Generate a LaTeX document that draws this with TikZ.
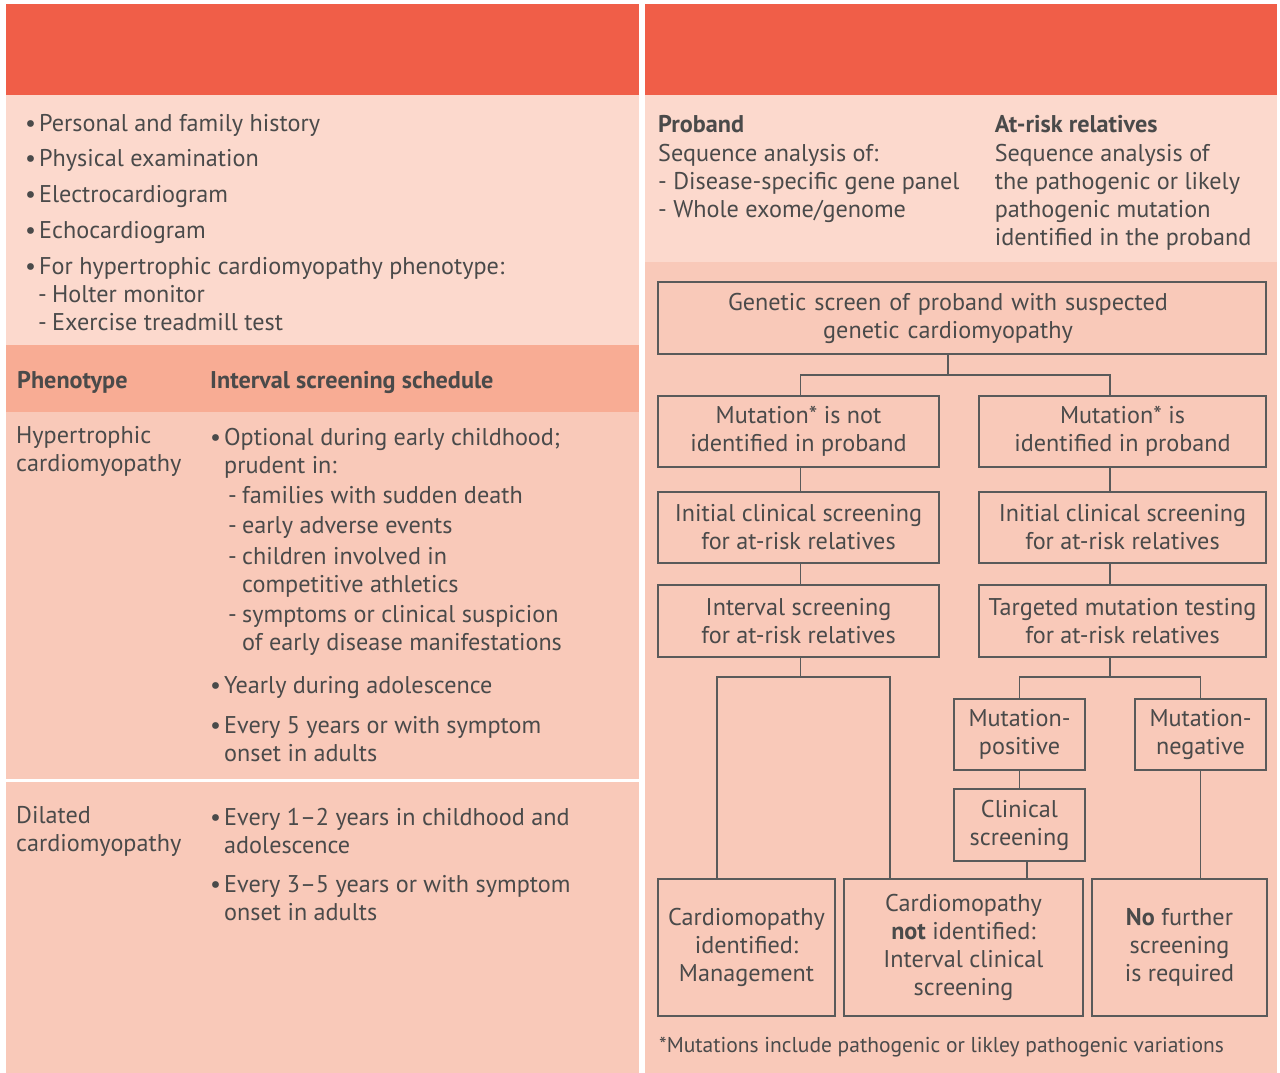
\documentclass[tikz,border=0pt]{standalone}
\usepackage{fontspec}
\setmainfont{PT Sans}
\definecolor{hdrred}{HTML}{F05E48}
\definecolor{lightpink}{HTML}{FCD9CD}
\definecolor{phenorow}{HTML}{F8AC94}
\definecolor{salmon}{HTML}{F9C9B9}
\definecolor{txtgray}{HTML}{4A4A4A}
\definecolor{linegray}{HTML}{5A5A5A}
\newcommand{\mfs}{\fontsize{24.2}{28}\selectfont}
\newcommand{\ffs}{\fontsize{21.5}{24}\selectfont}
\newcommand{\bul}{\makebox[14pt][l]{•}}
\newcommand{\dsh}{\makebox[14pt][l]{-}}
\tikzset{
  box/.style={draw=linegray, line width=1.8pt, inner sep=0pt, align=center, text=txtgray, font=\mfs},
  conn/.style={draw=linegray, line width=1.8pt},
  txt/.style={anchor=base west, inner sep=0pt, text=txtgray, font=\mfs, align=left},
}
\begin{document}
\begin{tikzpicture}[x=1pt,y=-1pt]
\useasboundingbox (0,0) rectangle (1280,1073);
\fill[white] (0,0) rectangle (1280,1073);
% left panel
\fill[hdrred] (6,4) rectangle (639,95);
\fill[lightpink] (6,95) rectangle (639,345);
\fill[phenorow] (6,345) rectangle (639,412);
\fill[salmon] (6,412) rectangle (639,1073);
\fill[white] (6,779) rectangle (639,781.5);
% right panel
\fill[hdrred] (645,4) rectangle (1277,95);
\fill[lightpink] (645,95) rectangle (1277,262);
\fill[salmon] (645,262) rectangle (1277,1073);

% left top list (base anchor = baseline of last line)
\node[txt] (l1) at (25,131) {\bul Personal and family history};
\node[txt] (l2) at (25,166) {\bul Physical examination};
\node[txt] (l3) at (25,202) {\bul Electrocardiogram};
\node[txt] (l4) at (25,238) {\bul Echocardiogram};
\node[txt] (l5) at (25,330) {\bul For hypertrophic cardiomyopathy phenotype:\\
  \hspace*{13pt}\dsh Holter monitor\\
  \hspace*{13pt}\dsh Exercise treadmill test};

% phenotype header
\node[txt] (ph) at (17,388) {\bfseries Phenotype};
\node[txt] (is) at (210,388) {\bfseries Interval screening schedule};

% hypertrophic
\node[txt] (hcm) at (16,471) {Hypertrophic\\cardiomyopathy};
\node[txt] (h1) at (210,473) {\bul Optional during early childhood;\\\hspace*{14pt}prudent in:};
\node[txt] (h1a) at (228,503) {\dsh families with sudden death};
\node[txt] (h1b) at (228,533) {\dsh early adverse events};
\node[txt] (h1c) at (228,592) {\dsh children involved in\\\hspace*{14pt}competitive athletics};
\node[txt] (h1d) at (228,650) {\dsh symptoms or clinical suspicion\\\hspace*{14pt}of early disease manifestations};
\node[txt] (h2) at (210,693) {\bul Yearly during adolescence};
\node[txt] (h3) at (210,761) {\bul Every 5 years or with symptom\\\hspace*{14pt}onset in adults};

% dilated
\node[txt] (dcm) at (16,851) {Dilated\\cardiomyopathy};
\node[txt] (d1) at (210,853) {\bul Every 1–2 years in childhood and\\\hspace*{14pt}adolescence};
\node[txt] (d2) at (210,920) {\bul Every 3–5 years or with symptom\\\hspace*{14pt}onset in adults};

% right top
\node[txt] (pb) at (658,132) {\bfseries Proband};
\node[txt] (pbt) at (658,217) {Sequence analysis of:\\- Disease-specific gene panel\\- Whole exome/genome};
\node[txt] (ar) at (994.6,132) {\bfseries At-risk relatives};
\node[txt] (art) at (994.6,245) {Sequence analysis of\\the pathogenic or likely\\pathogenic mutation\\identified in the proband};

% flowchart boxes
\node[box, minimum width=608pt, minimum height=72pt, text width=580pt] (top) at (962,318)
  {\hspace*{-28pt}Genetic screen of proband with suspected\\\hspace*{-28pt}genetic cardiomyopathy};
\node[box, minimum width=281pt, minimum height=71pt] (a1) at (798.5,431.5) {Mutation* is not\\identified in proband};
\node[box, minimum width=287pt, minimum height=71pt] (b1) at (1122.5,431.5) {Mutation* is\\identified in proband};
\node[box, minimum width=281pt, minimum height=71pt] (a2) at (798.5,527.5) {Initial clinical screening\\for at-risk relatives};
\node[box, minimum width=287pt, minimum height=71pt] (b2) at (1122.5,527.5) {Initial clinical screening\\for at-risk relatives};
\node[box, minimum width=281pt, minimum height=72pt] (a3) at (798.5,621) {Interval screening\\for at-risk relatives};
\node[box, minimum width=287pt, minimum height=72pt] (b3) at (1122.5,621) {Targeted mutation testing\\for at-risk relatives};
\node[box, minimum width=131pt, minimum height=71pt] (mp) at (1019.5,734.5) {Mutation-\\positive};
\node[box, minimum width=131pt, minimum height=71pt] (mn) at (1200.5,734.5) {Mutation-\\negative};
\node[box, minimum width=131pt, minimum height=72pt] (cs) at (1019.5,825) {Clinical\\screening};
\node[box, minimum width=177pt, minimum height=137pt] (c1) at (746.5,947.5) {Cardiomopathy\\identified:\\Management};
\node[box, minimum width=239pt, minimum height=137pt] (c2) at (963.5,947.5) {Cardiomopathy\\\textbf{not} identified:\\Interval clinical\\screening};
\node[box, minimum width=175pt, minimum height=137pt] (c3) at (1179.5,947.5) {\textbf{No} further\\screening\\is required};

% footnote
\node[txt, font=\ffs] (fn) at (659,1052) {*Mutations include pathogenic or likley pathogenic variations};

% connectors
\coordinate (j0) at (948,375);
\coordinate (jA) at (800.5,375);
\coordinate (jB) at (1110,375);
\draw[conn] (top.south -| j0) -- (j0);
\draw[conn] (a1.north -| jA) -- (jA) -- (jB) -- (b1.north -| jB);
\draw[conn] (a1.south -| jA) -- (a2.north -| jA);
\draw[conn] (a2.south -| jA) -- (a3.north -| jA);
\draw[conn] (b1.south -| jB) -- (b2.north -| jB);
\draw[conn] (b2.south -| jB) -- (b3.north -| jB);
\coordinate (jA2) at (800.5,677);
\coordinate (jB2) at (1110,677);
\coordinate (xc1) at (716.6,0);
\coordinate (xc2) at (890,0);
\coordinate (xcs) at (1027,0);
\draw[conn] (a3.south -| jA) -- (jA2);
\draw[conn] (c1.north -| xc1) |- (jA2);
\draw[conn] (c2.north -| xc2) |- (jA2);
\draw[conn] (b3.south -| jB) -- (jB2);
\draw[conn] (mp.north) |- (jB2);
\draw[conn] (mn.north) |- (jB2);
\draw[conn] (mp.south) -- (cs.north);
\draw[conn] (cs.south -| xcs) -- (c2.north -| xcs);
\draw[conn] (mn.south) -- (c3.north -| mn.south);
\end{tikzpicture}
\end{document}
